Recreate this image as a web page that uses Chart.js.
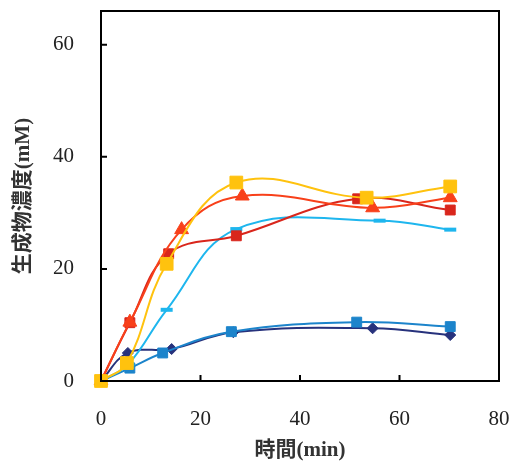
<!DOCTYPE html>
<html>
<head>
<meta charset="utf-8">
<script src="https://cdn.jsdelivr.net/npm/chart.js@4"></script>
<style>
  body { margin: 0; background: #fff; }
  #wrap { width: 515px; height: 463px; }
</style>
</head>
<body>
<div id="wrap"><canvas id="myChart"></canvas></div>
<script>
// values (time in min, concentration in mM)
const navy_x = [0, 5.4, 14.2, 26.6, 54.6, 70.2];
const navy_y = [0, 5.0, 5.7, 8.7, 9.4, 8.2];

const blue_x = [0, 5.8, 12.4, 26.2, 51.4, 70.2];
const blue_y = [0, 2.3, 5.0, 8.8, 10.5, 9.7];

const cyan_x = [0, 5.5, 13.2, 27.2, 56.0, 70.2];
const cyan_y = [0, 3.0, 12.7, 27.1, 28.6, 27.0];

const red_x = [0, 5.8, 13.6, 27.2, 51.6, 70.2];
const red_y = [0, 10.4, 22.7, 25.9, 32.5, 30.5];

const tri_x = [0, 5.8, 16.2, 28.4, 54.6, 70.2];
const tri_y = [0, 10.5, 27.0, 33.0, 30.9, 32.7];

const yellow_x = [0, 5.2, 13.2, 27.2, 53.4, 70.2];
const yellow_y = [0, 3.2, 20.9, 35.4, 32.7, 34.7];

const x_ticks = [0, 20, 40, 60, 80];
const y_ticks = [0, 20, 40, 60];

function toPoints(xs, ys) {
    let pts = [];
    for (let i = 0; i < xs.length; i += 1) {
        pts.push({x: xs[i], y: ys[i]});
    }
    return pts;
}

function makeSet(xs, ys, color, style, radius, bw) {
    return {
        data: toPoints(xs, ys),
        showLine: true,
        borderColor: color,
        backgroundColor: color,
        borderWidth: 2,
        tension: 0.4,
        pointStyle: style,
        pointRadius: radius,
        pointBorderWidth: bw,
        pointBackgroundColor: color,
        pointBorderColor: color,
        clip: false
    };
}

// box and inward ticks
const frame = {
    id: 'frame',
    afterDatasetsDraw(chart) {
        const ctx = chart.ctx;
        const a = chart.chartArea;
        const xs = chart.scales.x;
        const ys = chart.scales.y;
        ctx.save();
        ctx.strokeStyle = '#000';
        ctx.lineWidth = 2;
        ctx.strokeRect(a.left, a.top, a.right - a.left, a.bottom - a.top);
        ctx.beginPath();
        for (const v of x_ticks) {
            if (v === 0 || v === 80) continue;
            const px = xs.getPixelForValue(v);
            ctx.moveTo(px, a.bottom);
            ctx.lineTo(px, a.bottom - 6);
        }
        for (const v of y_ticks) {
            if (v === 0) continue;
            const py = ys.getPixelForValue(v);
            ctx.moveTo(a.left, py);
            ctx.lineTo(a.left + 6, py);
        }
        ctx.stroke();
        ctx.restore();
    }
};

const tickFont = {family: '"Liberation Serif", serif', size: 21};
const titleFont = {family: '"Liberation Serif", "Noto Sans CJK JP", serif', size: 21, weight: 'bold'};

const ctx = document.getElementById('myChart').getContext('2d');
const myChart = new Chart(ctx, {
    type: 'scatter',
    data: {
        datasets: [
            makeSet(yellow_x, yellow_y, '#ffc20e', 'rect', 9, 1),
            makeSet(tri_x, tri_y, '#f8401a', 'triangle', 8, 1),
            makeSet(red_x, red_y, '#d9261c', 'rect', 7, 1),
            makeSet(cyan_x, cyan_y, '#1eb6ee', 'line', 6, 4),
            makeSet(blue_x, blue_y, '#1c84cb', 'rect', 7, 1),
            makeSet(navy_x, navy_y, '#27327c', 'rectRot', 5.5, 1)
        ]
    },
    options: {
        responsive: true,
        maintainAspectRatio: false,
        animation: false,
        layout: { padding: {left: 0, top: 11, right: 16, bottom: 0} },
        plugins: {
            legend: { display: false },
            tooltip: { enabled: false }
        },
        scales: {
            x: {
                type: 'linear',
                min: 0,
                max: 80,
                grid: { display: false },
                border: { display: false },
                ticks: {
                    stepSize: 20,
                    font: tickFont,
                    color: '#222',
                    padding: 18,
                    maxRotation: 0
                },
                title: {
                    display: true,
                    text: '時間(min)',
                    font: titleFont,
                    color: '#333',
                    padding: 0
                },
                afterFit(scale) {
                    scale.height = 82;
                    scale.paddingLeft = 0;
                    scale.paddingRight = 0;
                }
            },
            y: {
                min: 0,
                max: 66,
                grid: { display: false },
                border: { display: false },
                afterBuildTicks(axis) {
                    axis.ticks = y_ticks.map(v => ({value: v}));
                },
                ticks: {
                    font: tickFont,
                    color: '#222',
                    padding: 19
                },
                title: {
                    display: true,
                    text: '生成物濃度(mM)',
                    font: titleFont,
                    color: '#333',
                    padding: {top: 11, bottom: 0}
                },
                afterFit(scale) {
                    scale.width = 101;
                    scale.paddingTop = 0;
                    scale.paddingBottom = 0;
                }
            }
        }
    },
    plugins: [frame]
});
</script>
</body>
</html>
